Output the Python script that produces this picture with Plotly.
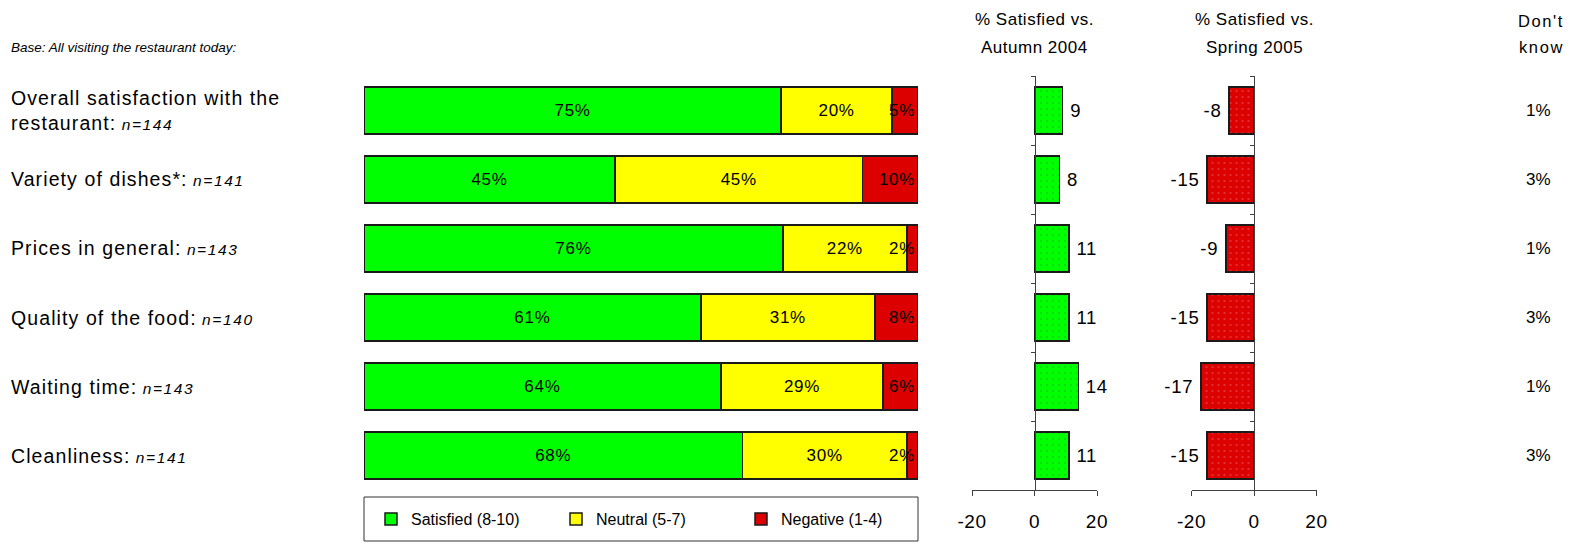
import plotly.graph_objects as go

W, H = 1573, 544
FONT = "Liberation Sans, Arial, sans-serif"

# ---------------- data ----------------
categories = ["Overall satisfaction with the restaurant", "Variety of dishes*",
              "Prices in general", "Quality of the food", "Waiting time", "Cleanliness"]
label_lines = [["Overall satisfaction with the", "restaurant:"], ["Variety of dishes*:"],
               ["Prices in general:"], ["Quality of the food:"], ["Waiting time:"], ["Cleanliness:"]]
n_base = [144, 141, 143, 140, 143, 141]

satisfied = [75.3, 45.3, 75.6, 60.8, 64.4, 68.3]
neutral = [20.0, 44.7, 22.4, 31.4, 29.3, 29.7]
negative = [4.7, 10.0, 2.0, 7.8, 6.3, 2.0]

vs_autumn_2004 = [9, 8, 11, 11, 14, 11]
vs_spring_2005 = [-8, -15, -9, -15, -17, -15]
dont_know = [1, 3, 1, 3, 1, 3]

diff_ticks = [-20, 0, 20]

GREEN, YELLOW, RED = "#00FF00", "#FFFF00", "#DD0000"
EDGE = "#1a1a1a"
AXIS = "#404040"
THIN = "\u2009"


def fx(px):
    return px / W


def fy(py):
    return 1 - py / H


def ls(text, px):
    return f"<span style='letter-spacing:{px}px'>{text}</span>"


fig = go.Figure()

# --------- main stacked bars ---------
for name, vals, col, anchor in [("Satisfied (8-10)", satisfied, GREEN, "middle"),
                                ("Neutral (5-7)", neutral, YELLOW, "middle"),
                                ("Negative (1-4)", negative, RED, "end")]:
    fig.add_trace(go.Bar(
        name=name, y=categories, x=vals, orientation="h",
        marker=dict(color=col, line=dict(color=EDGE, width=1.5)),
        text=[ls(f"{v:.0f}%", 0.7) for v in vals], textposition="inside",
        insidetextanchor=anchor, textangle=0, constraintext="none",
        textfont=dict(family=FONT, size=17, color="black"), cliponaxis=False,
        xaxis="x", yaxis="y", showlegend=True, hoverinfo="skip",
    ))

# --------- difference charts ---------
for vals, xa, ya in [(vs_autumn_2004, "x2", "y2"), (vs_spring_2005, "x3", "y3")]:
    fig.add_trace(go.Bar(
        y=categories, x=vals, orientation="h",
        marker=dict(color=[GREEN if v >= 0 else RED for v in vals],
                    line=dict(color=EDGE, width=1.5),
                    pattern=dict(shape=".", fgcolor="white", size=6, solidity=0.04)),
        text=[ls((THIN + str(v)) if v >= 0 else (str(v) + THIN), 0.8) for v in vals],
        textposition="outside", textangle=0,
        textfont=dict(family=FONT, size=18.5, color="black"), cliponaxis=False,
        xaxis=xa, yaxis=ya, showlegend=False, hoverinfo="skip",
    ))

ydom = [fy(490), fy(76)]
cat_axis = dict(type="category", categoryorder="array", categoryarray=categories,
                range=[5.5, -0.5], domain=ydom, fixedrange=True)

x2dom = [fx(972), fx(1097)]
x3dom = [fx(1191.5), fx(1316.5)]

diff_x = dict(range=[-20, 20], tickvals=diff_ticks, ticktext=[ls(str(t), 0.6) for t in diff_ticks],
              ticks="outside", ticklen=5,
              tickcolor=AXIS, showline=True, linecolor=AXIS, linewidth=1,
              showgrid=False, zeroline=False, ticklabelstandoff=9,
              tickfont=dict(family=FONT, size=19, color="black"))
diff_y = dict(cat_axis, anchor="free", showline=True, linecolor=AXIS, linewidth=1,
              ticks="outside", ticklen=4, tickcolor=AXIS, tickson="boundaries",
              showticklabels=False, showgrid=False, zeroline=False)

fig.update_layout(
    width=W, height=H, margin=dict(l=0, r=0, t=0, b=0, autoexpand=False),
    paper_bgcolor="white", plot_bgcolor="white",
    barmode="stack", bargap=0.32,
    font=dict(family=FONT, size=16, color="black"),
    xaxis=dict(domain=[fx(364), fx(918)], range=[0, 100], visible=False, anchor="y"),
    yaxis=dict(cat_axis, visible=False, anchor="x"),
    xaxis2=dict(diff_x, domain=x2dom, anchor="y2"),
    yaxis2=dict(diff_y, position=(x2dom[0] + x2dom[1]) / 2),
    xaxis3=dict(diff_x, domain=x3dom, anchor="y3"),
    yaxis3=dict(diff_y, position=(x3dom[0] + x3dom[1]) / 2),
    legend=dict(orientation="h", x=fx(371), y=fy(519), xanchor="left", yanchor="middle",
                bgcolor="rgba(0,0,0,0)", borderwidth=0, entrywidth=140,
                font=dict(family=FONT, size=16, color="black"), traceorder="normal"),
)

# legend frame
fig.add_shape(type="rect", xref="paper", yref="paper",
              x0=fx(364), x1=fx(918), y0=fy(541), y1=fy(497),
              line=dict(color="#333333", width=1), fillcolor="rgba(0,0,0,0)")

ann = []
# base note
ann.append(dict(text="<i>Base: All visiting the restaurant today:</i>", xref="paper", yref="paper",
                x=fx(9), y=fy(47), xanchor="left", yanchor="middle", showarrow=False,
                font=dict(family=FONT, size=13.5, color="black")))
# category labels
for cat, lines, n in zip(categories, label_lines, n_base):
    body = "<br>".join(ls(t, 1.1) for t in lines)
    txt = f"{body} <i><span style='font-size:15.5px;letter-spacing:1.6px'>n={n}</span></i>"
    ann.append(dict(text=txt, xref="paper", yref="y", x=fx(9), y=cat,
                    xanchor="left", yanchor="middle", align="left", showarrow=False,
                    font=dict(family=FONT, size=19.5, color="black")))
# column headers (one annotation per line for the wider line spacing)
for l1, l2, xc in [("% Satisfied vs.", "Autumn 2004", (x2dom[0] + x2dom[1]) / 2),
                   ("% Satisfied vs.", "Spring 2005", (x3dom[0] + x3dom[1]) / 2)]:
    for t, yy in [(l1, 20), (l2, 47)]:
        ann.append(dict(text=ls(t, 0.5), xref="paper", yref="paper", x=xc, y=fy(yy),
                        xanchor="center", yanchor="middle", showarrow=False,
                        font=dict(family=FONT, size=17, color="black")))
for t, yy in [("Don't", 21), ("know", 47)]:
    ann.append(dict(text=ls(t, 1.6), xref="paper", yref="paper", x=fx(1541), y=fy(yy),
                    xanchor="center", yanchor="middle", showarrow=False,
                    font=dict(family=FONT, size=16.5, color="black")))
# don't know values
for cat, v in zip(categories, dont_know):
    ann.append(dict(text=f"{v}%", xref="paper", yref="y", x=fx(1553), y=cat,
                    xanchor="right", yanchor="middle", showarrow=False,
                    font=dict(family=FONT, size=17, color="black")))

fig.update_layout(annotations=ann)
fig.write_html("out.html")
